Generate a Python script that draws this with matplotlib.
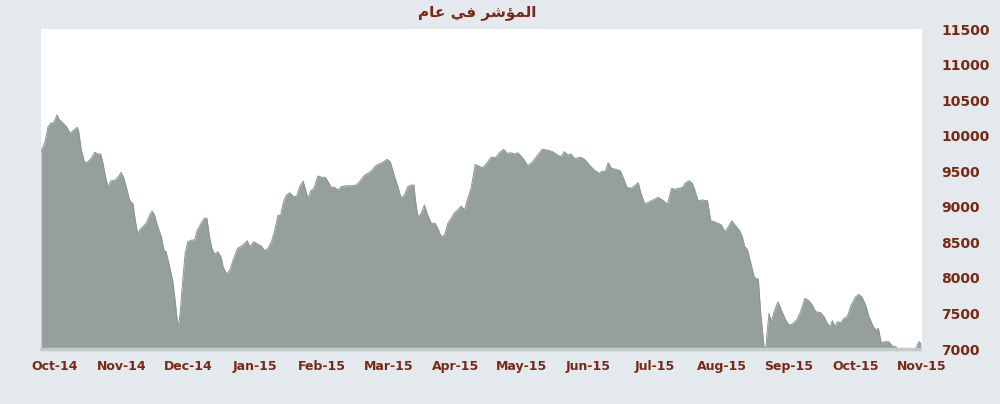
import numpy as np
import pandas as pd
import matplotlib
matplotlib.use("Agg")
import matplotlib.pyplot as plt

# days since 1 Oct 2014 and index level
days = [-6.4, -4.7, -3.2, -1.7, -0.9, 0.9, 2.1, 3.6, 5.2, 7.0, 8.2, 10.2, 10.8, 12.0, 13.5,
        15.0, 16.5, 18.1, 19.6, 20.8, 21.9, 22.7, 24.2, 25.4, 27.5, 28.7, 30.2, 31.4, 32.5,
        34.0, 35.6, 36.6, 37.8, 38.6, 40.1, 41.6, 43.2, 44.3, 45.4, 46.9, 48.5, 49.7, 50.7,
        52.3, 53.8, 54.8, 56.1, 57.1, 58.3, 59.4, 60.6, 62.4, 63.7, 64.9, 66.7, 68.2, 69.3,
        70.5, 71.6, 72.8, 74.3, 75.7, 76.7, 78.3, 79.8, 81.3, 83.3, 84.8, 86.3, 87.7, 88.9,
        90.7, 92.4, 94.2, 95.7, 97.2, 98.8, 100.3, 101.8, 102.9, 104.1, 105.6, 107.1, 108.6,
        110.2, 111.7, 113.2, 114.4, 115.5, 116.7, 118.2, 120.0, 121.6, 123.4, 124.6, 126.1,
        127.6, 129.1, 130.7, 133.0, 135.2, 137.5, 139.3, 141.3, 142.8, 144.4, 145.9, 147.4,
        148.9, 150.4, 151.6, 153.0, 153.9, 155.0, 156.5, 158.0, 159.5, 161.0, 162.6, 163.8,
        164.5, 165.6, 167.1, 168.6, 170.1, 171.7, 173.5, 174.7, 176.3, 177.8, 179.3, 180.8,
        182.3, 183.8, 185.4, 186.9, 188.4, 189.9, 191.8, 193.7, 195.2, 196.8, 199.0, 201.3,
        202.8, 204.7, 206.3, 208.2, 209.7, 211.2, 212.7, 214.2, 215.7, 218.0, 220.3, 222.3,
        224.8, 227.1, 229.4, 230.9, 232.5, 234.0, 235.5, 237.0, 240.1, 241.6, 243.9, 246.1,
        248.4, 249.9, 251.1, 252.5, 254.0, 256.0, 258.0, 259.5, 261.0, 262.9, 264.4, 266.2,
        267.4, 269.2, 271.2, 273.5, 275.3, 277.3, 279.5, 281.4, 282.6, 284.9, 286.4, 287.9,
        289.4, 290.9, 292.0, 293.5, 295.5, 297.8, 299.3, 300.8, 302.6, 304.2, 305.7, 307.2,
        308.9, 310.7, 312.5, 313.7, 314.8, 316.0, 317.6, 319.1, 319.8, 321.0, 322.1, 323.6,
        324.4, 325.1, 325.9, 326.9, 328.2, 330.0, 331.5, 333.5, 335.0, 336.5, 338.5, 340.3,
        342.3, 344.1, 345.6, 347.2, 349.5, 351.0, 352.5, 353.7, 354.8, 356.0, 357.1, 358.6,
        360.1, 361.6, 363.4, 365.4, 366.9, 368.4, 370.0, 371.5, 373.5, 374.6, 375.8, 377.1,
        378.7, 380.6, 382.1, 383.7, 385.2, 386.7, 389.0, 391.3, 392.8, 394.3, 395.2]
values = [9775, 9897, 10126, 10182, 10164, 10291, 10220, 10178, 10126, 10033, 10070, 10118,
          10056, 9798, 9620, 9634, 9682, 9766, 9742, 9742, 9611, 9471, 9274, 9363, 9377, 9415,
          9485, 9400, 9282, 9095, 9039, 8814, 8603, 8673, 8720, 8768, 8884, 8941, 8884, 8720,
          8579, 8392, 8368, 8157, 7946, 7689, 7291, 7502, 7970, 8346, 8509, 8533, 8533, 8673,
          8768, 8838, 8838, 8579, 8416, 8336, 8368, 8298, 8157, 8055, 8111, 8252, 8416, 8439,
          8477, 8523, 8439, 8509, 8477, 8448, 8382, 8416, 8509, 8673, 8884, 8870, 9049, 9166,
          9198, 9152, 9142, 9282, 9363, 9236, 9109, 9226, 9260, 9433, 9415, 9415, 9353, 9274,
          9274, 9236, 9282, 9296, 9296, 9306, 9363, 9447, 9471, 9503, 9564, 9597, 9611, 9644,
          9668, 9634, 9541, 9423, 9282, 9119, 9166, 9282, 9306, 9306, 9095, 8860, 8908, 9025,
          8884, 8768, 8768, 8697, 8579, 8603, 8768, 8838, 8917, 8955, 9011, 8955, 9119, 9260,
          9597, 9564, 9550, 9602, 9696, 9696, 9760, 9808, 9752, 9760, 9742, 9760, 9714, 9658,
          9578, 9634, 9728, 9808, 9798, 9775, 9728, 9704, 9775, 9728, 9742, 9682, 9696, 9668,
          9588, 9517, 9471, 9503, 9493, 9620, 9541, 9527, 9507, 9400, 9274, 9260, 9292, 9339,
          9190, 9039, 9071, 9105, 9133, 9095, 9035, 9260, 9246, 9260, 9274, 9339, 9367, 9330,
          9236, 9085, 9095, 9085, 8804, 8790, 8768, 8744, 8650, 8711, 8804, 8730, 8664, 8579,
          8439, 8402, 8205, 8017, 7994, 7984, 7502, 7032, 7010, 7267, 7502, 7384, 7525, 7665,
          7548, 7408, 7338, 7352, 7408, 7525, 7713, 7679, 7619, 7525, 7510, 7454, 7361, 7314,
          7398, 7314, 7384, 7370, 7432, 7454, 7619, 7735, 7769, 7727, 7619, 7454, 7314, 7267,
          7291, 7089, 7103, 7103, 7042, 7032, 6986, 7010, 6940, 6996, 6996, 7103, 7080]

month_labels = ["Oct-14", "Nov-14", "Dec-14", "Jan-15", "Feb-15", "Mar-15", "Apr-15",
                "May-15", "Jun-15", "Jul-15", "Aug-15", "Sep-15", "Oct-15", "Nov-15"]
y_ticks = [7000, 7500, 8000, 8500, 9000, 9500, 10000, 10500, 11000, 11500]

# "المؤشر في عام" in presentation forms, visual order
title = "\uFEE1\uFE8E\uFECB \uFEF2\uFED3 \uFEAE\uFEB7\uFE86\uFEE4\uFEDF\uFE8D"

bg = "#e3e9ec"
txt = "#7a2815"
fill = "#959f9e"

fig = plt.figure(figsize=(10, 4.04), dpi=100, facecolor=bg)
ax = fig.add_axes([0.041, 0.1361, 0.881, 0.7921])
ax.set_facecolor("white")

ax.fill_between(days, values, 6000, color=fill, linewidth=0)
ax.plot(days, values, color="#8a9494", linewidth=0.7)

ax.set_xlim(-6.4, 395.5)
ax.set_ylim(7000, 11500)

month_len = 30.44
ax.set_xticks(np.arange(len(month_labels)) * month_len)
ax.set_xticklabels(month_labels)
ax.set_yticks(y_ticks)

ax.yaxis.tick_right()
for s in ["top", "left", "right"]:
    ax.spines[s].set_visible(False)
ax.spines["bottom"].set_color("#c3cbcd")
ax.spines["bottom"].set_linestyle((0, (1, 1)))
ax.spines["bottom"].set_linewidth(2.5)

ax.tick_params(axis="x", length=0, pad=8, labelsize=9, labelcolor=txt)
ax.tick_params(axis="y", length=0, pad=14, labelsize=10, labelcolor=txt)
for lbl in ax.get_xticklabels() + ax.get_yticklabels():
    lbl.set_fontweight("bold")

fig.text(0.477, 0.97, title, ha="center", va="center", fontsize=11,
         fontweight="bold", color=txt, family="DejaVu Sans")

fig.savefig("out.png", dpi=100, facecolor=bg)
